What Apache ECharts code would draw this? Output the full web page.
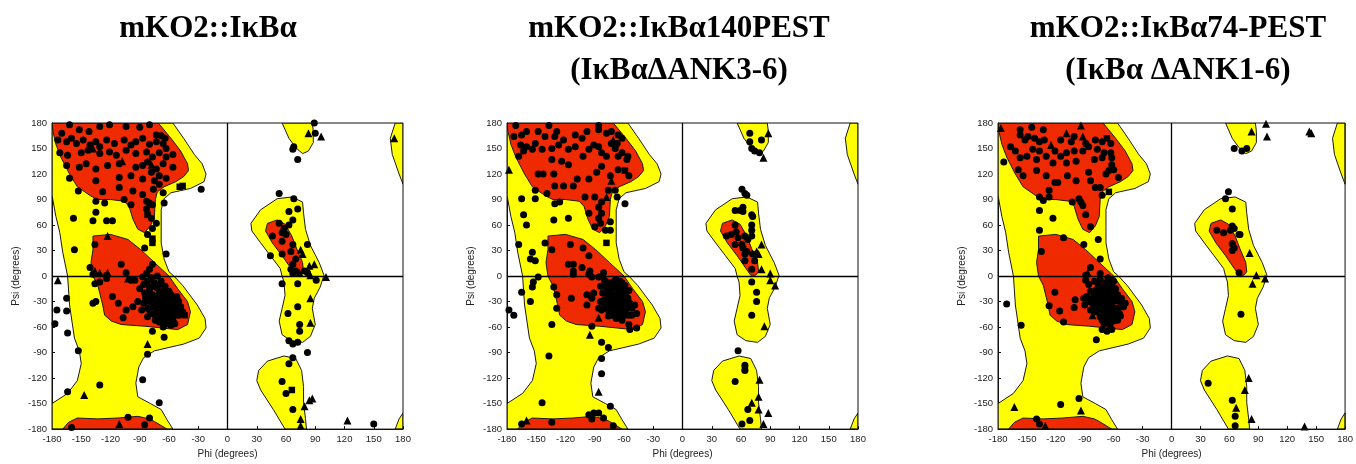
<!DOCTYPE html>
<html>
<head>
<meta charset="utf-8">
<script src="https://cdn.jsdelivr.net/npm/echarts@6/dist/echarts.min.js"></script>
<style>
html, body { margin: 0; background: #fff; }
#main { width: 1356px; height: 464px; }
</style>
</head>
<body>
<div id="main"></div>
<script>
// ---- Ramachandran region outlines, [phi, psi] in degrees ----
var yellowLeft = [[-180,180],[-56,180],[-45,162],[-34,143],[-26,132],[-22,120],[-24,111],[-38,103],[-58,98],[-65,91],[-68,78],[-68,58],[-68,39],[-65,20],[-60,5],[-55,0],[-46,-11],[-31,-34],[-23,-50],[-22,-61],[-29,-73],[-45,-80],[-75,-88],[-86,-96],[-91,-107],[-94,-126],[-92,-142],[-79,-150],[-68,-157],[-62,-169],[-56,-180],[-180,-180],[-180,-150],[-164,-138],[-154,-123],[-150,-103],[-152,-88],[-157,-73],[-162,-34],[-164,0],[-169,28],[-172,51],[-176,70],[-180,95]];
var yellowTopRight = [[56,180],[87,180],[88,170],[88,157],[83,147],[77,144],[70,151],[63,162]];
var yellowEdgeTop = [[172,180],[180,180],[180,108],[176,120],[169,143],[167,162]];
var yellowEdgeBottom = [[172,-180],[180,-180],[180,-161],[176,-168]];
var yellowLeftHanded = [[66,93],[77,87],[78,74],[80,55],[85,36],[94,16],[99,1],[95,-13],[89,-26],[87,-38],[90,-57],[85,-71],[77,-78],[65,-76],[56,-69],[53,-53],[56,-38],[59,-23],[58,-7],[56,0],[54,9],[44,24],[34,39],[25,53],[24,62],[34,78],[51,91]];
var yellowBottomRight = [[59,-180],[81,-180],[80,-168],[78,-149],[78,-130],[76,-111],[70,-97],[58,-94],[41,-100],[32,-111],[30,-123],[34,-134],[47,-157]];

var redBeta = [[-180,180],[-71,180],[-58,162],[-48,147],[-41,132],[-40,124],[-45,117],[-53,111],[-65,105],[-72,99],[-74,90],[-75,70],[-79,59],[-85,51],[-92,55],[-97,67],[-101,82],[-106,88],[-120,90],[-133,90],[-140,94],[-154,105],[-162,120],[-171,140],[-176,155],[-179,170]];
var redBetaBottom = [[-169,-180],[-163,-172],[-154,-167],[-133,-168],[-113,-167],[-92,-165],[-80,-168],[-75,-171],[-62,-180]];
var redAlpha = [[-138,47],[-120,49],[-102,43],[-89,31],[-75,16],[-60,0],[-51,-15],[-41,-30],[-38,-42],[-41,-57],[-51,-63],[-85,-59],[-109,-57],[-119,-53],[-126,-46],[-128,-34],[-133,-11],[-138,0],[-140,16],[-138,31]];
var redLeftHanded = [[41,62],[51,66],[59,61],[66,47],[71,32],[77,16],[78,5],[75,1],[70,1],[65,9],[56,24],[46,39],[39,53]];

var yellowRegions = [yellowLeft, yellowTopRight, yellowEdgeTop, yellowEdgeBottom, yellowLeftHanded, yellowBottomRight];
var redRegions = [redBeta, redBetaBottom, redAlpha, redLeftHanded];

// ---- titles ----
var titles = [
    ['mKO2::IκBα'],
    ['mKO2::IκBα140PEST', '(IκBαΔANK3-6)'],
    ['mKO2::IκBα74-PEST', '(IκBα ΔANK1-6)']
];
var tickValues = [-180, 180, 30];

// ---- residues, panel 1 ----
var p1Dots = [
    [-170,168],[-162,178],[-152,172],[-142,170],[-131,176],[-121,178],[-104,176],[-90,175],[-80,178],[-73,166],[-68,165],[-64,162],
    [-174,160],[-165,158],[-160,162],[-155,156],[-148,160],[-141,154],[-135,158],[-131,152],[-124,160],[-116,156],[-106,160],[-99,154],[-94,158],[-87,162],[-80,155],[-73,158],[-66,156],[-63,150],
    [-172,145],[-164,142],[-150,145],[-143,148],[-131,144],[-121,146],[-114,142],[-104,148],[-94,144],[-83,146],[-77,140],[-70,145],[-63,140],[-56,143],
    [-165,130],[-152,128],[-145,132],[-135,126],[-123,130],[-111,132],[-94,128],[-87,130],[-82,134],[-73,126],[-66,132],[-56,128],[-78,122],[-70,118],
    [-162,115],[-135,112],[-111,116],[-99,118],[-87,114],[-75,112],[-70,108],[-63,115],
    [-153,100],[-128,99],[-111,104],[-97,100],[-87,96],[-76,102],[-66,98],[-27,102],
    [-135,88],[-126,86],[-106,90],[-99,84],[-83,88],[-77,84],[-65,86],
    [-135,75],[-78,68],[-77,56],[-73,62],[-83,79],[-80,86],
    [-158,68],[-138,65],[-124,65],[-118,65],[-157,31],[-85,33],[-63,26],[-82,49],
    [-136,37],[-141,10],[-138,2],[-124,1],[-131,-7],[-124,-3],[-109,14],[-104,4],[-99,-5],[-118,-24],[-112,-32],[-104,-40],[-107,-49],[-97,-36],[-92,-30],[-85,-20],[-90,-15],[-95,-5],[-87,-1],[-83,3],[-80,8],[-77,14],[-80,-13],[-136,-9],[-135,-30],[-138,-32],
    [-86,-10],[-82,-6],[-78,-2],[-75,-8],[-72,-14],[-80,-16],[-84,-22],[-77,-22],[-70,-20],[-66,-24],[-74,-28],[-80,-30],[-70,-32],[-64,-30],[-60,-28],[-56,-26],[-52,-24],[-68,-38],[-62,-36],[-58,-34],[-54,-32],[-50,-30],[-76,-36],[-72,-42],[-66,-44],[-60,-42],[-56,-40],[-52,-38],[-48,-36],[-46,-42],[-64,-50],[-58,-48],[-54,-46],[-70,-48],[-62,-56],[-58,-58],[-78,-44],[-82,-38],[-86,-32],[-88,-40],[-74,-52],[-66,-60],[-60,-18],[-64,-12],[-68,-6],[-72,0],[-56,-52],[-50,-46],
    [-84,-26],[-78,-26],[-72,-24],[-68,-28],[-62,-24],[-58,-22],[-76,-32],[-72,-36],[-66,-36],[-64,-40],[-60,-38],[-68,-42],[-74,-46],[-80,-40],[-62,-46],[-56,-44],[-50,-40],[-70,-54],[-66,-52],[-60,-52],[-54,-56],[-82,-48],[-76,-12],[-70,-10],[-66,-18],[-62,-32],
    [-77,-65],[-65,-72],[-82,-92],[-87,-122],[-70,-149],[-131,-128],[-153,-88],[-164,-136],[-175,-40],[-165,-41],[-165,-26],[-164,-67],[-177,-56],[-102,-166],[-85,-175],[-80,-167],[-160,-178],
    [68,91],[72,79],[63,76],[67,66],[63,60],[58,56],[56,51],[60,49],[46,47],[56,41],[67,37],[65,29],[56,26],[70,20],[67,14],[65,8],[70,6],[67,3],[82,4],[82,37],[44,24],[53,62],[53,97],[79,6],[91,-5],[56,-9],[72,-9],[72,-36],[62,-44],[74,-57],[74,-65],[63,-76],[67,-80],[72,-78],[82,-90],[67,-96],[63,-103],[56,-124],[60,-138],[67,-157],[150,-174],[67,149],[68,152],[72,137],[90,168],[89,180]
];
var p1Tris = [[-138,150],[-108,135],[-78,131],[-131,4],[-123,4],[-102,-3],[-136,6],[-123,47],[-82,-80],[-147,-140],[-174,-5],[-111,-174],
    [75,31],[77,26],[74,4],[84,12],[89,14],[85,1],[101,-1],[85,-26],[85,-55],[87,-144],[84,-146],[79,-153],[75,-168],[75,-176],[123,-170],[83,168],[96,164],[171,162]];
var p1Squares = [[-82,72],[-49,105],[-46,106],[-77,44],[-77,39],[-44,-46],[66,-134]];

// ---- residues, panel 2 ----
var p2Dots = [
    [-171,177],[-173,164],[-165,166],[-160,170],[-148,170],[-137,177],[-129,170],[-141,164],[-131,164],[-122,160],[-110,166],[-103,162],[-98,170],[-86,177],[-86,172],[-78,168],[-73,170],[-66,166],[-62,162],
    [-166,154],[-168,141],[-163,147],[-160,152],[-151,156],[-144,149],[-154,149],[-134,150],[-127,154],[-134,137],[-124,135],[-117,149],[-110,152],[-102,141],[-96,149],[-91,154],[-86,152],[-83,145],[-78,141],[-69,150],[-66,141],[-62,145],[-57,137],[-56,141],[-73,156],[-67,156],
    [-148,120],[-143,120],[-132,120],[-117,131],[-108,114],[-96,114],[-88,122],[-83,129],[-74,118],[-66,125],[-55,118],[-131,106],[-122,106],[-112,106],[-151,101],[-139,97],[-131,85],[-126,87],[-100,93],[-90,93],[-83,87],[-86,81],[-76,101],[-69,101],[-67,93],[-96,74],[-86,68],[-83,74],[-90,58],[-84,62],[-74,64],[-79,54],[-74,54],[-59,85],
    [-165,91],[-163,72],[-160,60],[-151,91],[-168,37],[-154,28],[-156,20],[-151,18],[-148,-1],[-153,-7],[-154,-13],[-165,-19],[-156,-30],[-178,-40],[-173,-46],[-132,66],[-117,68],[-134,-57],[-137,-94],[-144,-149],[-83,-78],[-76,-84],[-83,-97],[-83,-115],[-74,-153],[-96,-163],[-91,-161],[-86,-161],[-93,-168],[-81,-167],[-134,-172],[-165,-174],[-71,-176],[-93,-59],
    [-141,39],[-134,31],[-115,37],[-102,33],[-96,24],[-117,14],[-112,14],[-112,6],[-112,2],[-103,10],[-96,2],[-95,6],[-93,-1],[-86,-1],[-81,4],[-132,-13],[-129,-22],[-114,-26],[-129,-38],[-98,-22],[-93,-26],[-98,-34],[-91,-20],[-83,-40],[-76,-47],
    [-59,-11],[-55,-17],[-49,-34],[-47,-44],[-52,-46],[-55,-57],[-47,-61],[-54,-63],
    [-80,-5],[-75,-8],[-70,-6],[-66,-10],[-62,-8],[-78,-14],[-72,-14],[-66,-16],[-60,-14],[-82,-20],[-76,-20],[-70,-22],[-64,-22],[-58,-20],[-80,-28],[-74,-28],[-68,-28],[-62,-28],[-56,-26],[-78,-34],[-72,-34],[-66,-34],[-60,-34],[-54,-32],[-76,-40],[-70,-40],[-64,-40],[-58,-40],[-72,-46],[-66,-46],[-60,-46],[-84,-30],[-86,-38],[-52,-38],[-68,-50],[-62,-52],[-74,-18],[-68,-4],[-84,-12],[-56,-46],
    [-72,-10],[-68,-12],[-76,-24],[-70,-26],[-64,-26],[-60,-24],[-74,-32],[-68,-32],[-62,-32],[-70,-36],[-64,-36],[-58,-36],[-66,-42],[-60,-42],[-74,-42],[-80,-36],[-56,-30],[-78,-10],[-64,-6],[-60,-18],
    [69,168],[69,158],[81,160],[71,150],[74,147],[79,145],
    [61,102],[64,97],[66,95],[54,77],[59,77],[62,81],[62,76],[71,72],[72,70],[71,60],[71,54],[54,60],[55,52],[45,47],[50,49],[57,45],[64,47],[67,43],[71,47],[54,37],[61,37],[62,33],[66,29],[64,26],[72,26],[74,18],[64,18],[71,8],[71,-7],[76,-19],[76,-30],[71,-46],
    [57,-88],[64,-105],[64,-111],[54,-124],[67,-157],[69,-170],[61,-174]
];
var p2Tris = [[-178,125],[-71,160],[-73,112],[-78,93],[-86,-49],[-95,-69],[-86,-136],[-160,-170],
    [88,168],[83,139],[81,37],[76,29],[78,26],[81,8],[90,3],[90,-5],[95,-11],[84,-59],[79,-122],[78,-142],[71,-149],[78,-157],[88,-161],[83,-174]];
var p2Squares = [[-59,124],[-78,39],[64,-109]];

// ---- residues, panel 3 ----
var p3Dots = [
    [-157,172],[-145,175],[-133,172],[-157,166],[-152,160],[-149,164],[-142,162],[-137,158],[-132,160],[-115,160],[-104,158],[-101,164],[-89,156],[-79,160],[-72,158],[-63,156],
    [-167,152],[-162,147],[-157,139],[-150,141],[-144,149],[-137,147],[-130,141],[-121,147],[-115,141],[-109,145],[-101,147],[-92,147],[-86,152],[-77,149],[-70,145],[-63,145],[-62,139],[-72,139],[-80,137],[-99,135],[-109,133],[-123,133],[-140,137],[-174,134],
    [-159,125],[-154,118],[-140,124],[-130,118],[-121,110],[-118,110],[-108,118],[-99,112],[-86,122],[-84,112],[-79,104],[-74,104],[-68,120],[-65,124],[-60,125],[-55,116],[-62,131],
    [-137,93],[-133,89],[-127,101],[-127,93],[-103,87],[-96,91],[-92,83],[-89,72],[-84,58],[-94,87],[-72,95],
    [-137,77],[-137,54],[-123,68],[-112,45],[-91,37],[-76,43],[-74,20],[-135,29],[-171,-33],[-156,-58],[-78,-75],[-115,-151],[-96,-144],[-140,-168],[-137,-174],
    [-89,1],[-89,-5],[-84,10],[-74,3],[-121,-19],[-127,-35],[-116,-41],[-112,-54],[-100,-28],[-101,-37],[-91,-26],[-82,-40],
    [-72,-63],[-67,-65],[-62,-63],[-60,-53],[-50,-36],[-48,-32],[-53,-47],[-62,-5],[-58,-15],
    [-86,-10],[-80,-6],[-74,-4],[-68,-8],[-62,-12],[-84,-18],[-78,-16],[-72,-14],[-66,-18],[-60,-20],[-56,-22],[-82,-26],[-76,-24],[-70,-24],[-64,-26],[-58,-28],[-54,-30],[-80,-34],[-74,-32],[-68,-34],[-62,-36],[-56,-38],[-50,-36],[-78,-42],[-72,-40],[-66,-42],[-60,-44],[-54,-44],[-74,-48],[-68,-50],[-62,-50],[-56,-52],[-70,-56],[-64,-58],[-88,-24],[-90,-34],[-84,-40],[-66,-2],[-60,-6],[-52,-26],
    [-76,-10],[-70,-12],[-64,-14],[-80,-20],[-74,-20],[-68,-20],[-62,-24],[-78,-28],[-72,-28],[-66,-30],[-60,-30],[-76,-38],[-70,-38],[-64,-40],[-58,-40],[-70,-44],[-64,-46],[-58,-48],[-72,-52],[-66,-54],[-82,-32],[-86,-30],
    [65,150],[73,147],[78,150],
    [59,99],[56,91],[63,79],[47,54],[54,51],[61,54],[63,59],[65,56],[70,49],[71,49],[63,38],[65,33],[63,30],[70,4],[72,-45],
    [38,-126],[63,-146],[66,-165],[66,-176]
];
var p3Tris = [[-177,174],[-109,168],[-94,177],[-92,164],[-125,154],[-87,4],[-82,-46],[-163,-154],[-94,-158],[-131,-176],
    [83,170],[98,179],[99,164],[143,170],[145,168],[81,27],[88,1],[84,-9],[97,-3],[80,-120],[76,-134],[67,-155],[83,-168],[138,-177]];
var p3Squares = [[-67,162],[-65,99]];

var panelDots = [p1Dots, p2Dots, p3Dots];
var panelTris = [p1Tris, p2Tris, p3Tris];
var panelSquares = [p1Squares, p2Squares, p3Squares];

// ---- layout ----
var gridLefts = [52, 507, 998];
var titleCenters = [208, 679, 1178];

var chartDom = document.getElementById('main');
var myChart = echarts.init(chartDom);

// 영역 폴리곤을 축 좌표로 그리는 함수
var regionRenderer = function (list, fill) {
    return function (params, api) {
        var pts = list[params.dataIndex].map(function (p) { return api.coord(p); });
        return {
            type: 'polygon',
            shape: { points: pts },
            style: { fill: fill, stroke: '#1a1a1a', lineWidth: 1 }
        };
    };
};

var grids = [], xAxes = [], yAxes = [], series = [], graphics = [];
var markStyle = { color: '#000', opacity: 1 };

for (var i = 0; i < 3; i++) {
    grids.push({
        left: gridLefts[i], top: 123, width: 351, height: 312,
        show: true, borderColor: '#111', borderWidth: 1, z: 10
    });
    var axisCommon = {
        gridIndex: i, type: 'value',
        min: tickValues[0], max: tickValues[1], interval: tickValues[2],
        axisLine: { onZero: false, lineStyle: { color: '#111', width: 1 } },
        axisTick: { inside: true, length: 3, lineStyle: { color: '#111' } },
        axisLabel: { fontFamily: 'Liberation Sans', fontSize: 9.5, color: '#222', margin: 5 },
        splitLine: { show: false },
        nameLocation: 'middle',
        nameTextStyle: { fontFamily: 'Liberation Sans', fontSize: 10, color: '#222' }
    };
    xAxes.push(Object.assign({}, axisCommon, { name: 'Phi (degrees)', nameGap: 17 }));
    yAxes.push(Object.assign({}, axisCommon, { name: 'Psi (degrees)', nameGap: 31 }));

    series.push({
        type: 'custom', xAxisIndex: i, yAxisIndex: i, z: 1, silent: true, clip: true,
        renderItem: regionRenderer(yellowRegions, '#ffff00'),
        data: yellowRegions.map(function () { return [0, 0]; })
    });
    series.push({
        type: 'custom', xAxisIndex: i, yAxisIndex: i, z: 2, silent: true, clip: true,
        renderItem: regionRenderer(redRegions, '#f02a00'),
        data: redRegions.map(function () { return [0, 0]; })
    });
    series.push({
        type: 'line', xAxisIndex: i, yAxisIndex: i, z: 3, data: [],
        markLine: {
            silent: true, symbol: 'none', animation: false,
            label: { show: false },
            lineStyle: { color: '#000', width: 1.3, type: 'solid' },
            data: [{ xAxis: 0 }, { yAxis: 0 }]
        }
    });
    series.push({
        type: 'scatter', xAxisIndex: i, yAxisIndex: i, z: 4,
        symbol: 'circle', symbolSize: 7, itemStyle: markStyle,
        data: panelDots[i]
    });
    series.push({
        type: 'scatter', xAxisIndex: i, yAxisIndex: i, z: 4,
        symbol: 'triangle', symbolSize: 8, itemStyle: markStyle,
        data: panelTris[i]
    });
    series.push({
        type: 'scatter', xAxisIndex: i, yAxisIndex: i, z: 4,
        symbol: 'rect', symbolSize: 6.5, itemStyle: markStyle,
        data: panelSquares[i]
    });

    titles[i].forEach(function (line, k) {
        graphics.push({
            type: 'text', x: titleCenters[i], y: 29 + k * 42,
            style: {
                text: line, font: 'bold 31px "Liberation Serif"', fill: '#000',
                textAlign: 'center', textVerticalAlign: 'middle',
                align: 'center', verticalAlign: 'middle'
            }
        });
    });
}

var option = {
    animation: false,
    backgroundColor: '#fff',
    grid: grids,
    xAxis: xAxes,
    yAxis: yAxes,
    series: series,
    graphic: graphics
};
option && myChart.setOption(option);
</script>
</body>
</html>
